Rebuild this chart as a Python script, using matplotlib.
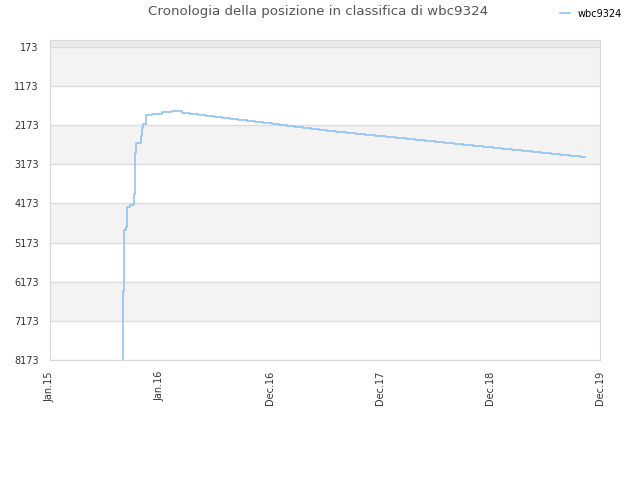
import numpy as np
import matplotlib
matplotlib.use("Agg")
import matplotlib.pyplot as plt

# x = months since Jan 2015, y = ranking position (step data)
months = [7.83, 7.87, 7.97, 8.12, 8.23, 8.63, 8.98, 9.08, 9.23, 9.76, 9.87, 9.98,
          10.30, 10.92, 12.00, 13.06, 14.13, 15.02, 15.91, 16.73, 17.59, 18.45,
          19.31, 20.17, 21.10, 21.99, 22.88, 23.78, 24.60, 25.46, 26.31, 27.17,
          28.03, 28.89, 29.75, 30.68, 31.75, 32.83, 33.76, 34.83, 36.04, 37.08,
          38.16, 39.15, 40.23, 41.30, 42.27, 43.34, 44.34, 45.41, 46.48, 47.52,
          48.52, 49.59, 50.60, 51.67, 52.67, 53.71, 54.74, 55.75, 56.82, 57.36]
ranks = [8173, 6410, 4851, 4774, 4263, 4212, 3930, 2882, 2627, 2449, 2245, 2142,
         1912, 1879, 1843, 1817, 1853, 1878, 1904, 1930, 1955, 1981,
         2006, 2032, 2057, 2083, 2108, 2134, 2160, 2185, 2211, 2236,
         2262, 2287, 2313, 2338, 2364, 2390, 2415, 2441, 2466, 2492,
         2517, 2543, 2568, 2594, 2620, 2645, 2671, 2696, 2722, 2747,
         2773, 2798, 2824, 2850, 2875, 2901, 2926, 2952, 2977, 2977]

yticks = [173, 1173, 2173, 3173, 4173, 5173, 6173, 7173, 8173]
xlabels = ["Jan.15", "Jan.16", "Dec.16", "Dec.17", "Dec.18", "Dec.19"]
total_months = 59

fig = plt.figure(figsize=(6.4, 4.8), dpi=100)
ax = fig.add_axes([0.078, 0.25, 0.8595, 0.6667])

# alternating bands
ax.axhspan(0, yticks[0], color="#ebebeb", zorder=0, lw=0)
for i in range(len(yticks) - 1):
    c = "#f3f3f3" if i % 2 == 0 else "white"
    ax.axhspan(yticks[i], yticks[i + 1], color=c, zorder=0, lw=0)
for t in yticks:
    ax.axhline(t, color="#dcdcdc", lw=1, zorder=1)

ax.step(months, ranks, where="post", color="#90c2f4", lw=1.2, zorder=3, label="wbc9324")

ax.set_xlim(0, total_months)
ax.set_ylim(yticks[-1], 0)
ax.set_yticks(yticks)
ax.set_yticklabels([str(t) for t in yticks])
ax.set_xticks(np.linspace(0, total_months, len(xlabels)))
ax.set_xticklabels(xlabels, rotation=90)
ax.tick_params(length=0, labelsize=7, colors="#333333", pad=8)

for s in ax.spines.values():
    s.set_color("#d8d8d8")

fig.suptitle("Cronologia della posizione in classifica di wbc9324",
             x=0.497, y=0.99, fontsize=9.6, color="#555555")
fig.legend(loc="upper right", bbox_to_anchor=(0.985, 1.0), frameon=False,
           fontsize=7, handlelength=1.0)

plt.savefig("out.png", dpi=100)
